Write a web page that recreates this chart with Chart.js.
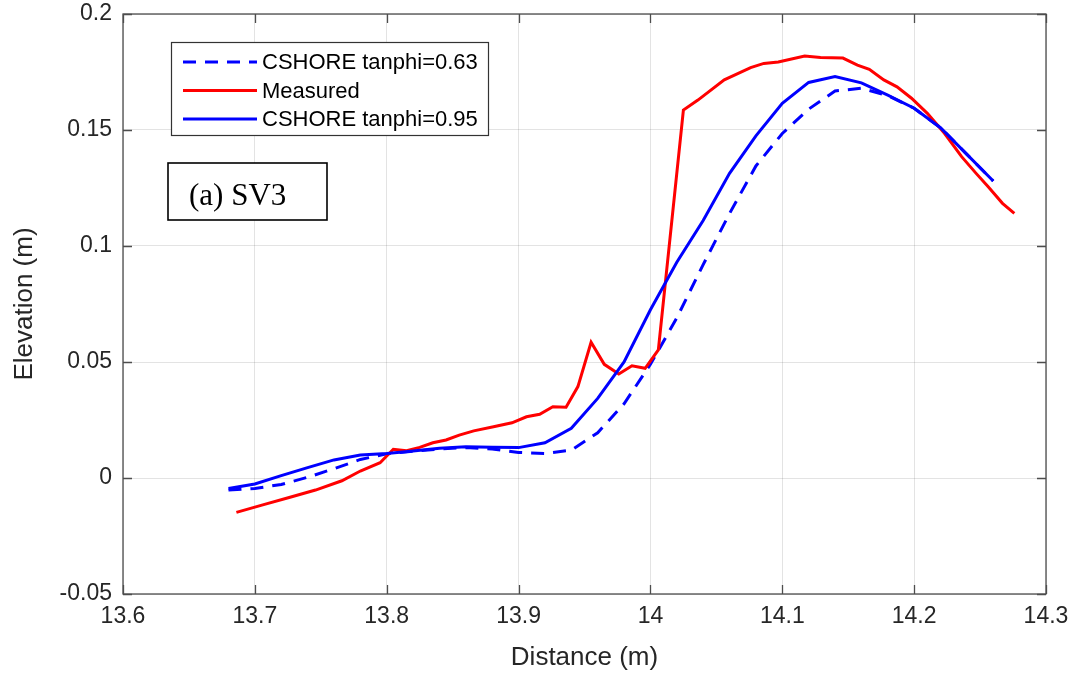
<!DOCTYPE html>
<html>
<head>
<meta charset="utf-8">
<script src="https://cdn.jsdelivr.net/npm/chart.js@4.4.1/dist/chart.umd.min.js"></script>
<style>
  html, body { margin: 0; padding: 0; background: #fff; }
  #wrap { width: 1076px; height: 678px; position: relative; }
</style>
</head>
<body>
<div id="wrap"><canvas id="profile-chart" width="1076" height="678"></canvas></div>
<script>
const measuredX = [13.686, 13.706, 13.726, 13.746, 13.766, 13.780, 13.795, 13.805, 13.815, 13.825,
  13.835, 13.845, 13.855, 13.866, 13.881, 13.895, 13.906, 13.916, 13.926, 13.936,
  13.945, 13.955, 13.965, 13.976, 13.986, 13.996, 14.006, 14.025, 14.036, 14.056,
  14.076, 14.086, 14.097, 14.117, 14.129, 14.146, 14.157, 14.166, 14.177, 14.187,
  14.198, 14.210, 14.223, 14.236, 14.247, 14.256, 14.267, 14.276];
const measuredY = [-0.0148, -0.0116, -0.0084, -0.0052, -0.0012, 0.0030, 0.0066, 0.0124, 0.0118, 0.0132,
  0.0152, 0.0164, 0.0185, 0.0203, 0.0221, 0.0238, 0.0264, 0.0275, 0.0307, 0.0305,
  0.0394, 0.0585, 0.0490, 0.0448, 0.0484, 0.0473, 0.0552, 0.1586, 0.1629, 0.1716,
  0.1769, 0.1787, 0.1793, 0.1819, 0.1813, 0.1810, 0.1780, 0.1762, 0.1716, 0.1686,
  0.1637, 0.1572, 0.1486, 0.1385, 0.1313, 0.1256, 0.1184, 0.1141];

const modelX = [13.68, 13.70, 13.72, 13.74, 13.76, 13.78, 13.80, 13.82, 13.84, 13.86,
  13.88, 13.90, 13.92, 13.94, 13.96, 13.98, 14.00, 14.02, 14.04, 14.06,
  14.08, 14.10, 14.12, 14.14, 14.16, 14.18, 14.20, 14.22, 14.24, 14.26];
const tanphi063 = [-0.0052, -0.0045, -0.0028, 0.0003, 0.0040, 0.0080, 0.0104, 0.0115, 0.0125, 0.0131,
  0.0125, 0.0110, 0.0106, 0.0120, 0.0195, 0.0320, 0.0490, 0.0690, 0.0920, 0.1140,
  0.1345, 0.1485, 0.1590, 0.1668, 0.1680, 0.1648, 0.1594, 0.1510, 0.1395, 0.1280];
const tanphi095 = [-0.0045, -0.0026, 0.0010, 0.0045, 0.0078, 0.0099, 0.0106, 0.0116, 0.0128, 0.0135,
  0.0133, 0.0131, 0.0152, 0.0214, 0.0343, 0.0500, 0.0725, 0.0930, 0.1110, 0.1313,
  0.1475, 0.1615, 0.1705, 0.1730, 0.1703, 0.1650, 0.1594, 0.1510, 0.1395, 0.1280];

const xTicks = [13.6, 13.7, 13.8, 13.9, 14.0, 14.1, 14.2, 14.3];
const yTicks = [-0.05, 0, 0.05, 0.1, 0.15, 0.2];
const seriesNames = ["CSHORE tanphi=0.63", "Measured", "CSHORE tanphi=0.95"];
const panelLabel = "(a) SV3";

const toPoints = (xs, ys) => xs.map((x, i) => ({ x: x, y: ys[i] }));
const fmt = (v) => String(Number(v.toFixed(2)));
const sans = "'Liberation Sans', Arial, sans-serif";

// MATLAB style box with inward ticks on all four sides
const boxPlugin = {
  id: "matlabBox",
  afterDatasetsDraw(chart) {
    const { ctx, chartArea: a, scales } = chart;
    ctx.save();
    ctx.strokeStyle = "#4d4d4d";
    ctx.lineWidth = 1.3;
    ctx.strokeRect(a.left, a.top, a.right - a.left, a.bottom - a.top);
    ctx.beginPath();
    xTicks.forEach((t) => {
      const px = Math.round(scales.x.getPixelForValue(t)) + 0.5;
      ctx.moveTo(px, a.bottom); ctx.lineTo(px, a.bottom - 9);
      ctx.moveTo(px, a.top); ctx.lineTo(px, a.top + 9);
    });
    yTicks.forEach((t) => {
      const py = Math.round(scales.y.getPixelForValue(t)) + 0.5;
      ctx.moveTo(a.left, py); ctx.lineTo(a.left + 9, py);
      ctx.moveTo(a.right, py); ctx.lineTo(a.right - 9, py);
    });
    ctx.stroke();
    ctx.restore();
  },
};

// legend box and the panel label, both inside the axes
const legendPlugin = {
  id: "insideLegend",
  afterDraw(chart) {
    const { ctx } = chart;
    ctx.save();
    ctx.fillStyle = "#fff";
    ctx.fillRect(171, 42, 317, 93);
    ctx.strokeStyle = "#333";
    ctx.lineWidth = 1.2;
    ctx.strokeRect(171.5, 42.5, 317, 93);
    ctx.font = "22px " + sans;
    ctx.textBaseline = "middle";
    seriesNames.forEach((name, i) => {
      const ds = chart.data.datasets[i];
      const y = 62 + i * 28.5;
      ctx.strokeStyle = ds.borderColor;
      ctx.lineWidth = 3;
      ctx.setLineDash(ds.borderDash || []);
      ctx.beginPath();
      ctx.moveTo(183, y); ctx.lineTo(257, y);
      ctx.stroke();
      ctx.setLineDash([]);
      ctx.fillStyle = "#000";
      ctx.fillText(name, 262, y + 1);
    });

    ctx.fillStyle = "#fff";
    ctx.fillRect(168, 163, 159, 57);
    ctx.strokeStyle = "#000";
    ctx.lineWidth = 1.6;
    ctx.strokeRect(168, 163, 159, 57);
    ctx.fillStyle = "#000";
    ctx.textBaseline = "alphabetic";
    ctx.font = "31px 'Liberation Serif', 'Times New Roman', serif";
    ctx.fillText(panelLabel, 189, 205);
    ctx.restore();
  },
};

const profileData = {
  datasets: [
    {
      label: seriesNames[0],
      data: toPoints(modelX, tanphi063),
      borderColor: "#0000ff",
      borderWidth: 3,
      borderDash: [13, 9],
      order: 2,
    },
    {
      label: seriesNames[1],
      data: toPoints(measuredX, measuredY),
      borderColor: "#ff0000",
      borderWidth: 3,
      order: 1,
    },
    {
      label: seriesNames[2],
      data: toPoints(modelX, tanphi095),
      borderColor: "#0000ff",
      borderWidth: 3,
      order: 0,
    },
  ],
};

const profileConfig = {
  type: "line",
  data: profileData,
  options: {
    responsive: false,
    animation: false,
    layout: { padding: { top: 14, right: 30, left: 0, bottom: 0 } },
    elements: { point: { radius: 0 }, line: { tension: 0, fill: false } },
    scales: {
      x: {
        type: "linear",
        min: 13.6,
        max: 14.3,
        afterBuildTicks: (scale) => { scale.ticks = xTicks.map((v) => ({ value: v })); },
        afterFit: (scale) => {
          scale.height = 84;
          scale.paddingLeft = 0;
          scale.paddingRight = 0;
        },
        border: { display: false },
        grid: { color: "rgba(38,38,38,0.13)", drawTicks: false },
        ticks: {
          padding: 9,
          color: "#262626",
          font: { family: sans, size: 23 },
          callback: (v) => fmt(v),
        },
        title: {
          display: true,
          text: "Distance (m)",
          color: "#262626",
          padding: { top: 0, bottom: 5 },
          font: { family: sans, size: 26 },
        },
      },
      y: {
        min: -0.05,
        max: 0.2,
        afterBuildTicks: (scale) => { scale.ticks = yTicks.map((v) => ({ value: v })); },
        afterFit: (scale) => {
          scale.width = 123;
          scale.paddingTop = 0;
          scale.paddingBottom = 0;
        },
        border: { display: false },
        grid: { color: "rgba(38,38,38,0.13)", drawTicks: false },
        ticks: {
          padding: 11,
          color: "#262626",
          font: { family: sans, size: 23 },
          callback: (v) => fmt(v),
        },
        title: {
          display: true,
          text: "Elevation (m)",
          color: "#262626",
          padding: { top: 9, bottom: 0 },
          font: { family: sans, size: 26 },
        },
      },
    },
    plugins: {
      legend: { display: false },
      tooltip: { enabled: false },
    },
  },
  plugins: [boxPlugin, legendPlugin],
};

const profileChart = new Chart(document.getElementById("profile-chart"), profileConfig);
</script>
</body>
</html>
